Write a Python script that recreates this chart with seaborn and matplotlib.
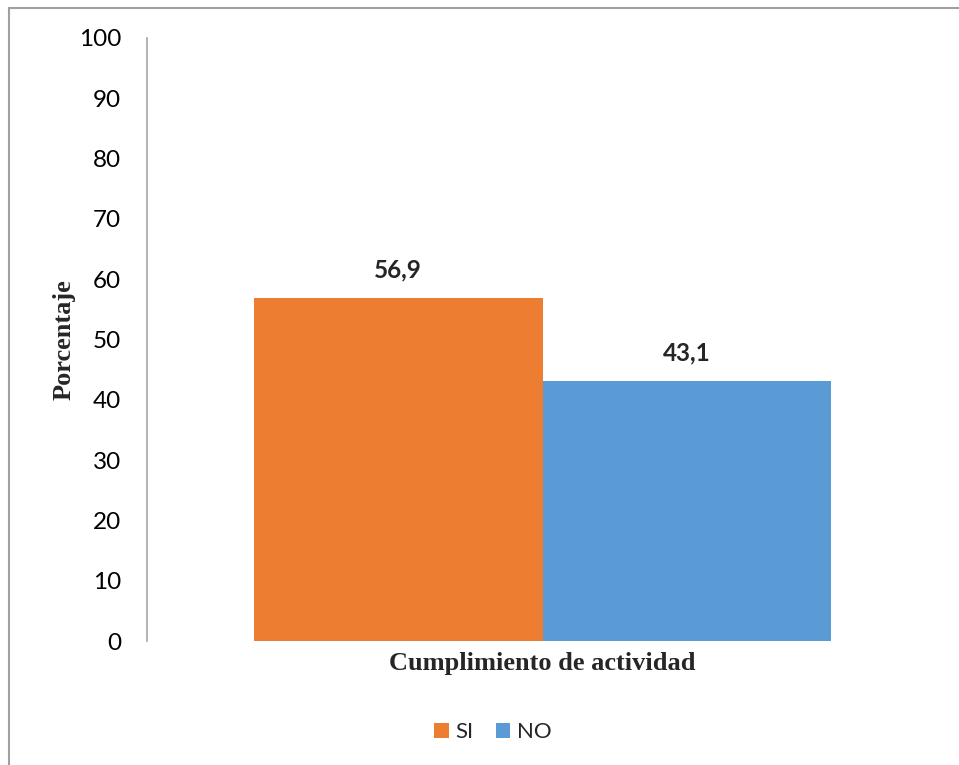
import matplotlib
matplotlib.use("Agg")
import matplotlib.pyplot as plt
import seaborn as sns
import pandas as pd
from matplotlib.patches import Rectangle

# Data
categories = ["Cumplimiento de actividad"]
responses = ["SI", "NO"]
percentages = [56.9, 43.1]
colors = ["#ED7D31", "#5B9BD5"]
y_ticks = [0, 10, 20, 30, 40, 50, 60, 70, 80, 90, 100]

df = pd.DataFrame({
    "categoria": categories * len(responses),
    "respuesta": responses,
    "porcentaje": percentages,
})

sns.set_theme(style="white")
plt.rcParams["font.family"] = ["Lato", "DejaVu Sans"]

fig = plt.figure(figsize=(9.59, 7.65), dpi=100)
ax = fig.add_axes([147 / 959, 124 / 765, 791 / 959, 603 / 765])

sns.barplot(data=df, x="categoria", y="porcentaje", hue="respuesta",
            hue_order=responses, palette=colors, width=0.73,
            saturation=1, linewidth=0, ax=ax, legend=True)

ax.set_ylim(0, 100)
ax.set_xlim(-0.5, 0.5)
ax.set_yticks(y_ticks)
ax.set_yticklabels([str(t) for t in y_ticks], fontsize=17.5, color="#000000")
ax.tick_params(axis="y", length=0, pad=18.5)
ax.tick_params(axis="x", length=0, pad=8)
for lbl in ax.get_xticklabels():
    lbl.set_fontfamily("Liberation Serif")
    lbl.set_fontweight("bold")
    lbl.set_fontsize(19)
ax.set_xlabel("")
ax.set_ylabel("Porcentaje", fontfamily="Liberation Serif", fontweight="bold",
              fontsize=19)
ax.yaxis.set_label_coords((76 - 147) / 791, 0.5)

for side in ["top", "right", "bottom"]:
    ax.spines[side].set_visible(False)
ax.spines["left"].set_color("#A6A6A6")
ax.spines["left"].set_linewidth(1.2)

for container in ax.containers:
    ax.bar_label(container, labels=[f"{v:.1f}".replace(".", ",") for v in container.datavalues],
                 padding=12, fontsize=17.5, fontweight="bold")

handles, labels = ax.get_legend_handles_labels()
ax.legend_.remove()
fig.legend(handles, labels, loc="center", bbox_to_anchor=(493 / 959, 33 / 765),
           ncol=2, frameon=False, fontsize=16, handlelength=0.65, handleheight=0.65,
           handletextpad=0.3, columnspacing=1.0)

# Outer chart frame (left and top edges)
fig.patches.append(Rectangle((9 / 959, -0.1), 1.2, 757 / 765 + 0.1,
                             transform=fig.transFigure, fill=False,
                             edgecolor="#A0A0A0", linewidth=1.5))

fig.savefig("out.png", dpi=100)
